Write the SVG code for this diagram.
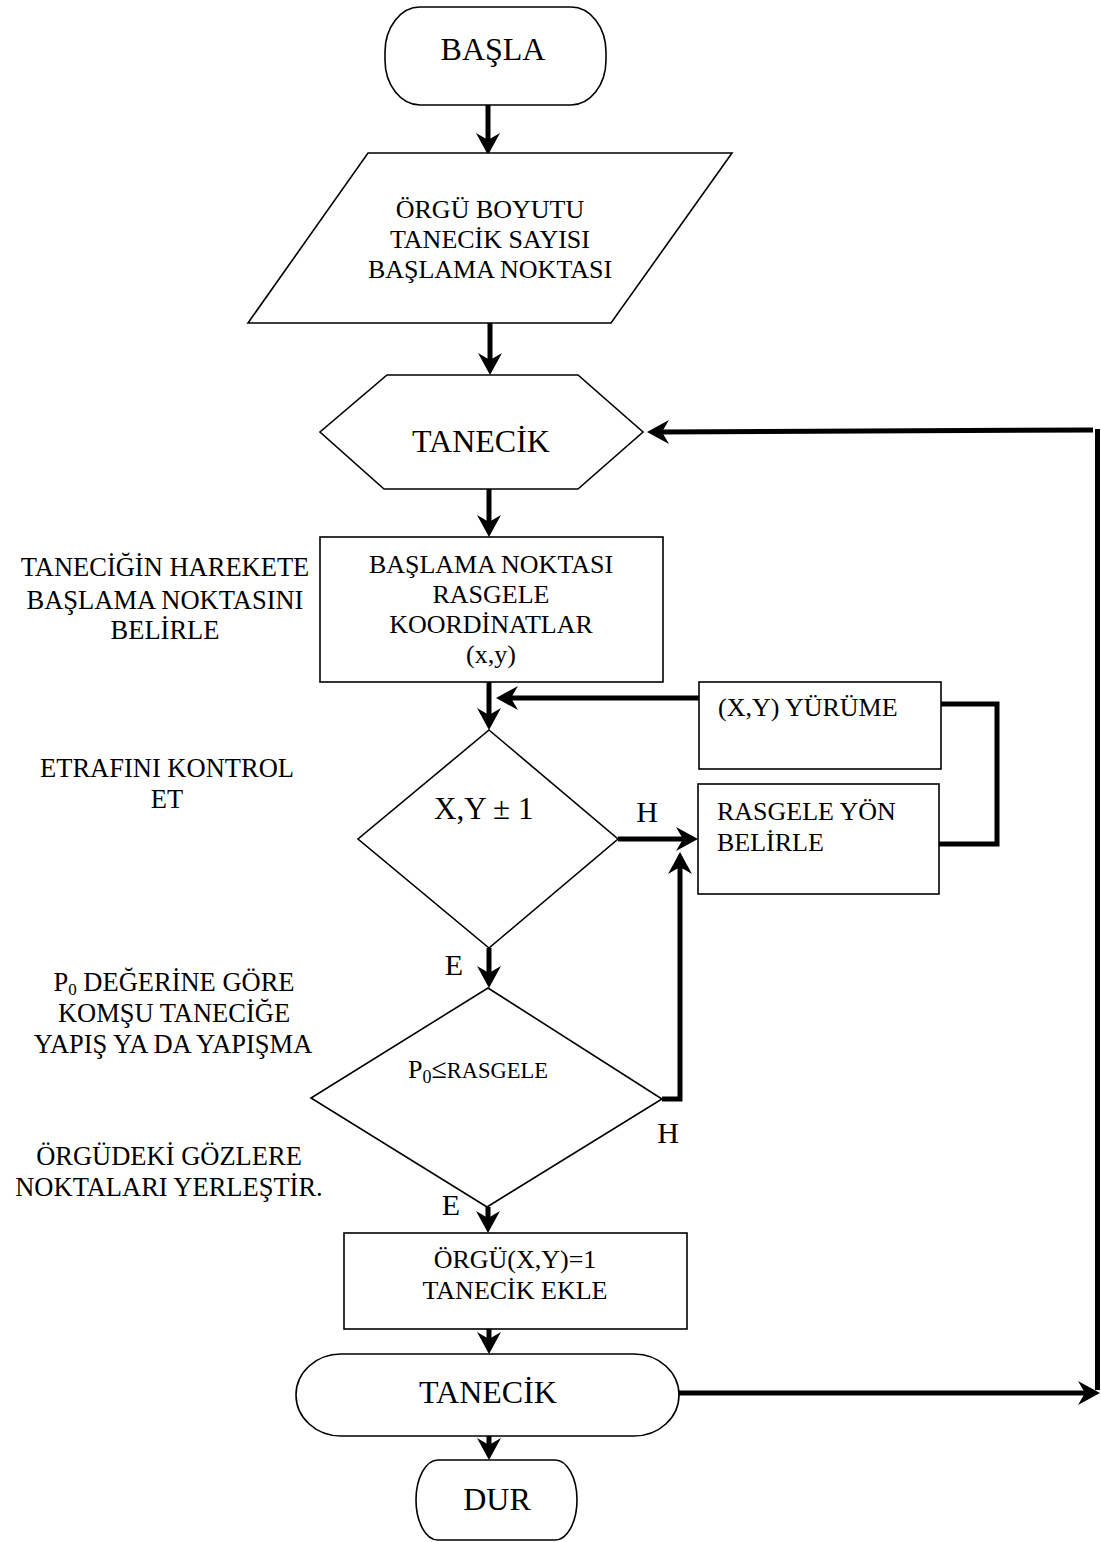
<svg xmlns="http://www.w3.org/2000/svg" width="1101" height="1542" viewBox="0 0 1101 1542">
<style>
.sh{fill:#fff;stroke:#000;stroke-width:1.6}
.t{font-family:"Liberation Serif","Times New Roman",serif;fill:#000}
.c{stroke:#000;stroke-width:5;fill:none}
</style>
<defs>
<marker id="ah" markerUnits="userSpaceOnUse" viewBox="-12 -14 26 28" refX="0" refY="0" markerWidth="26" markerHeight="28" orient="auto" overflow="visible">
<path d="M12,0 L-10,-12 L-3,0 L-10,12 Z" fill="#000"/>
</marker>
</defs>
<rect width="1101" height="1542" fill="#fff"/>

<g id="connectors">
<line class="c" x1="488" y1="105" x2="488" y2="143" marker-end="url(#ah)"/>
<line class="c" x1="490" y1="323" x2="490" y2="363" marker-end="url(#ah)"/>
<line class="c" x1="489" y1="489" x2="489" y2="525" marker-end="url(#ah)"/>
<line class="c" x1="489" y1="682" x2="489" y2="718" marker-end="url(#ah)"/>
<line class="c" x1="699" y1="698" x2="508" y2="698" marker-end="url(#ah)"/>
<polyline class="c" points="941,704 997,704 997,844 939,844"/>
<line class="c" x1="618" y1="839" x2="686" y2="839" marker-end="url(#ah)"/>
<polyline class="c" points="662,1099 680,1099 680,864" marker-end="url(#ah)"/>
<line class="c" x1="489" y1="948" x2="489" y2="976" marker-end="url(#ah)"/>
<line class="c" x1="488" y1="1207" x2="488" y2="1221" marker-end="url(#ah)"/>
<line class="c" x1="489" y1="1329" x2="489" y2="1342" marker-end="url(#ah)"/>
<line class="c" x1="489" y1="1436" x2="489" y2="1448" marker-end="url(#ah)"/>
<line class="c" x1="673" y1="1393" x2="1088" y2="1393" marker-end="url(#ah)"/>
<line class="c" x1="1097.5" y1="1390" x2="1097.5" y2="429"/>
<line class="c" x1="1093" y1="430" x2="659" y2="432" marker-end="url(#ah)"/>
</g>

<g id="start">
<rect class="sh" x="385" y="7" width="221" height="98" rx="35" ry="45"/>
<text class="t" x="493" y="60" font-size="32" text-anchor="middle">BAŞLA</text>
</g>

<g id="input">
<polygon class="sh" points="368,153 732,153 611,323 248,323"/>
<text class="t" font-size="26" text-anchor="middle"><tspan x="490" y="218">ÖRGÜ BOYUTU</tspan><tspan x="490" y="248">TANECİK SAYISI</tspan><tspan x="490" y="278">BAŞLAMA NOKTASI</tspan></text>
</g>

<g id="loop">
<polygon class="sh" points="387,375 578,375 643,432 578,489 384,489 320,432"/>
<text class="t" x="481" y="452" font-size="32" text-anchor="middle">TANECİK</text>
</g>

<g id="startpoint">
<rect class="sh" x="320" y="537" width="343" height="145"/>
<text class="t" font-size="26" text-anchor="middle"><tspan x="491" y="573">BAŞLAMA NOKTASI</tspan><tspan x="491" y="603">RASGELE</tspan><tspan x="491" y="633">KOORDİNATLAR</tspan><tspan x="491" y="663">(x,y)</tspan></text>
</g>

<g id="walk">
<rect class="sh" x="699" y="682" width="242" height="87"/>
<text class="t" x="718" y="716" font-size="26">(X,Y) YÜRÜME</text>
</g>

<g id="direction">
<rect class="sh" x="698" y="784" width="241" height="110"/>
<text class="t" font-size="26"><tspan x="717" y="820">RASGELE YÖN</tspan><tspan x="717" y="851">BELİRLE</tspan></text>
</g>

<g id="check">
<polygon class="sh" points="489,730 618,839 489,948 358,839"/>
<text class="t" x="434" y="819" font-size="31">X,Y ± 1</text>
<text class="t" x="647" y="822" font-size="30" text-anchor="middle">H</text>
<text class="t" x="454" y="975" font-size="30" text-anchor="middle">E</text>
</g>

<g id="stick">
<polygon class="sh" points="488,988 662,1099 487,1207 311,1098"/>
<text class="t" x="408" y="1078" font-size="26">P<tspan font-size="18" dy="5">0</tspan><tspan dy="-5" font-size="28">≤</tspan><tspan font-size="22.5">RASGELE</tspan></text>
<text class="t" x="668" y="1143" font-size="30" text-anchor="middle">H</text>
<text class="t" x="451" y="1215" font-size="30" text-anchor="middle">E</text>
</g>

<g id="add">
<rect class="sh" x="344" y="1233" width="343" height="96"/>
<text class="t" font-size="26" text-anchor="middle"><tspan x="515" y="1268">ÖRGÜ(X,Y)=1</tspan><tspan x="515" y="1299">TANECİK EKLE</tspan></text>
</g>

<g id="loopend">
<rect class="sh" x="296" y="1354" width="383" height="82" rx="45" ry="41"/>
<text class="t" x="488" y="1403" font-size="32" text-anchor="middle">TANECİK</text>
</g>

<g id="stop">
<rect class="sh" x="416" y="1460" width="161" height="80" rx="22" ry="40"/>
<text class="t" x="497" y="1510" font-size="32" text-anchor="middle">DUR</text>
</g>

<g id="notes">
<text class="t" font-size="26.5" text-anchor="middle"><tspan x="165" y="576">TANECİĞİN HAREKETE</tspan><tspan x="165" y="609">BAŞLAMA NOKTASINI</tspan><tspan x="165" y="639">BELİRLE</tspan></text>
<text class="t" font-size="26.5" text-anchor="middle"><tspan x="167" y="777">ETRAFINI KONTROL</tspan><tspan x="167" y="808">ET</tspan></text>
<text class="t" font-size="26.5" text-anchor="middle" x="174" y="991">P<tspan font-size="17" dy="4">0</tspan><tspan dy="-4"> DEĞERİNE GÖRE</tspan></text>
<text class="t" font-size="26.5" text-anchor="middle"><tspan x="174" y="1022">KOMŞU TANECİĞE</tspan><tspan x="173" y="1053">YAPIŞ YA DA YAPIŞMA</tspan></text>
<text class="t" font-size="26.5" text-anchor="middle"><tspan x="169" y="1165">ÖRGÜDEKİ GÖZLERE</tspan><tspan x="169" y="1196">NOKTALARI YERLEŞTİR.</tspan></text>
</g>
</svg>
